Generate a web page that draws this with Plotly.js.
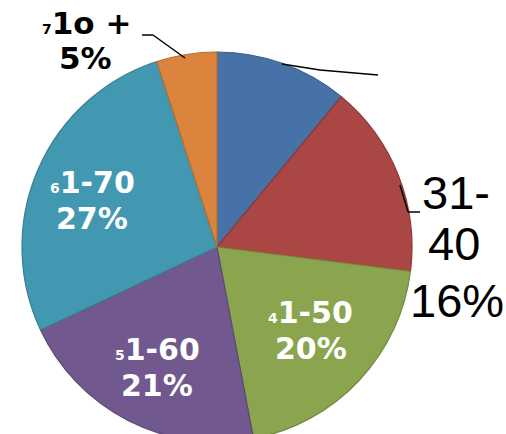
<!DOCTYPE html>
<html>
<head>
<meta charset="utf-8">
<script src="https://cdn.plot.ly/plotly-3.0.1.min.js"></script>
<style>
html,body{margin:0;padding:0;overflow:hidden;background:#fff;}
#chart{width:506px;height:450px;}
</style>
</head>
<body>
<div id="chart"></div>
<script>
// Data
var categories = ["21-30", "31-40", "41-50", "51-60", "61-70", "71o +"];
var shares = [11, 16, 20, 21, 27, 5];
var sliceColors = ["#4672A8", "#AA4644", "#8BA54E", "#71588F", "#4298B0", "#DB843D"];
var edgeColors = ["#3A5F8C", "#8C3A38", "#728A40", "#5D4876", "#377F93", "#B66E33"];

var W = 506, H = 450;
function px(x){ return x / W; }
function py(y){ return (H - y) / H; }

function pct(i){ return shares[i] + "%"; }
function smallFirst(label, size){
  return '<span style="font-size:' + size + 'px">' + label.charAt(0) + '</span>' + label.slice(1);
}

var trace = {
  type: "pie",
  labels: categories,
  values: shares,
  sort: false,
  direction: "clockwise",
  rotation: 0,
  textinfo: "none",
  hoverinfo: "label+percent",
  marker: { colors: sliceColors, line: { color: edgeColors, width: 1.2 } },
  domain: { x: [px(22), px(412)], y: [py(442), py(52)] },
  showlegend: false
};

var inFont = { family: "DejaVu Sans, Verdana, sans-serif", size: 30, color: "#ffffff", weight: "bold" };
var topFont = { family: "DejaVu Sans, Verdana, sans-serif", size: 31, color: "#000000", weight: "bold" };
var bigFont = { family: "Liberation Sans, Arial, sans-serif", size: 47, color: "#000000" };

function ann(text, x, y, font){
  return { text: text, x: px(x), y: py(y), xref: "paper", yref: "paper",
           xanchor: "center", yanchor: "middle", showarrow: false, font: font };
}

var annotations = [
  ann(smallFirst(categories[4], 14), 92, 183, inFont),
  ann("<b>" + pct(4) + "</b>", 92, 218, inFont),
  ann(smallFirst(categories[3], 14), 157, 349, inFont),
  ann("<b>" + pct(3) + "</b>", 157, 385, inFont),
  ann(smallFirst(categories[2], 14), 310, 313, inFont),
  ann("<b>" + pct(2) + "</b>", 311, 348, inFont),
  ann(smallFirst(categories[5], 14), 86, 23, topFont),
  ann("<b>" + pct(5) + "</b>", 85, 58, topFont),
  ann(categories[1].split("-")[0] + "-", 456, 192, bigFont),
  ann(categories[1].split("-")[1], 454, 244, bigFont),
  ann(pct(1), 457, 300, bigFont)
];

function seg(x0, y0, x1, y1){
  return { type: "line", xref: "paper", yref: "paper",
           x0: px(x0), y0: py(y0), x1: px(x1), y1: py(y1),
           line: { color: "#000000", width: 1.5 } };
}

var shapes = [
  seg(282, 64, 320, 70), seg(320, 70, 378, 75),
  seg(142, 35, 153, 35), seg(153, 35, 185, 58),
  seg(400, 185, 408, 212), seg(408, 212, 420, 212)
];

var layout = {
  width: W, height: H,
  margin: { l: 0, r: 0, t: 0, b: 0, pad: 0 },
  paper_bgcolor: "#ffffff",
  plot_bgcolor: "#ffffff",
  annotations: annotations,
  shapes: shapes,
  showlegend: false
};

Plotly.newPlot("chart", [trace], layout, { displayModeBar: false, staticPlot: true });
</script>
</body>
</html>
